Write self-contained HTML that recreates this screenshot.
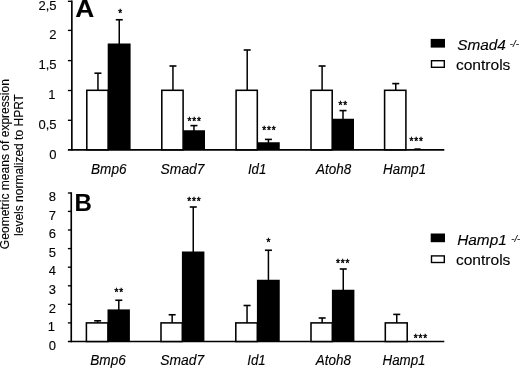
<!DOCTYPE html>
<html><head><meta charset="utf-8"><title>Figure</title>
<style>
html,body{margin:0;padding:0;background:#fff;}
body{width:520px;height:368px;overflow:hidden;}
svg{display:block;will-change:transform;}
text{font-family:"Liberation Sans",sans-serif;fill:#000;stroke:#000;stroke-width:0.12px;}
text.st{stroke-width:0.4px;}
</style></head><body>
<svg width="520" height="368" viewBox="0 0 520 368">
<rect x="0" y="0" width="520" height="368" fill="#fff"/>
<line x1="71.85" y1="0.55" x2="71.85" y2="150.58" stroke="#000" stroke-width="1.65"/>
<line x1="67.90" y1="149.80" x2="444.30" y2="149.80" stroke="#000" stroke-width="1.65"/>
<text x="56.60" y="158.50" text-anchor="end" style="font-size:13px;" >0</text>
<line x1="67.90" y1="120.30" x2="71.85" y2="120.30" stroke="#000" stroke-width="1.35"/>
<text x="56.60" y="129.00" text-anchor="end" style="font-size:13px;" >0,5</text>
<line x1="67.90" y1="90.50" x2="71.85" y2="90.50" stroke="#000" stroke-width="1.35"/>
<text x="55.60" y="99.20" text-anchor="end" style="font-size:13px;" >1</text>
<line x1="67.90" y1="60.60" x2="71.85" y2="60.60" stroke="#000" stroke-width="1.35"/>
<text x="56.60" y="69.30" text-anchor="end" style="font-size:13px;" >1,5</text>
<line x1="67.90" y1="30.40" x2="71.85" y2="30.40" stroke="#000" stroke-width="1.35"/>
<text x="56.60" y="39.10" text-anchor="end" style="font-size:13px;" >2</text>
<line x1="67.90" y1="1.30" x2="71.85" y2="1.30" stroke="#000" stroke-width="1.35"/>
<text x="56.60" y="9.50" text-anchor="end" style="font-size:13px;" >2,5</text>
<rect x="107.70" y="43.50" width="22.90" height="106.30" fill="#000"/>
<line x1="119.25" y1="19.75" x2="119.25" y2="44.50" stroke="#000" stroke-width="1.5"/>
<line x1="115.75" y1="19.75" x2="122.75" y2="19.75" stroke="#000" stroke-width="1.6"/>
<rect x="86.80" y="90.30" width="21.30" height="59.50" fill="#fff" stroke="#000" stroke-width="1.55"/>
<line x1="97.95" y1="73.20" x2="97.95" y2="90.30" stroke="#000" stroke-width="1.5"/>
<line x1="94.45" y1="73.20" x2="101.45" y2="73.20" stroke="#000" stroke-width="1.6"/>
<text class="st" x="120.60" y="17.35" text-anchor="middle" style="font-size:10.0px;" letter-spacing="0.87">*</text>
<rect x="182.70" y="130.25" width="22.30" height="19.55" fill="#000"/>
<line x1="193.95" y1="125.60" x2="193.95" y2="131.25" stroke="#000" stroke-width="1.5"/>
<line x1="190.45" y1="125.60" x2="197.45" y2="125.60" stroke="#000" stroke-width="1.6"/>
<rect x="161.80" y="90.30" width="21.30" height="59.50" fill="#fff" stroke="#000" stroke-width="1.55"/>
<line x1="172.95" y1="66.00" x2="172.95" y2="90.30" stroke="#000" stroke-width="1.5"/>
<line x1="169.45" y1="66.00" x2="176.45" y2="66.00" stroke="#000" stroke-width="1.6"/>
<text class="st" x="194.60" y="124.75" text-anchor="middle" style="font-size:10.0px;" letter-spacing="0.87">***</text>
<rect x="256.90" y="142.25" width="22.85" height="7.55" fill="#000"/>
<line x1="268.42" y1="139.40" x2="268.42" y2="143.25" stroke="#000" stroke-width="1.5"/>
<line x1="264.92" y1="139.40" x2="271.92" y2="139.40" stroke="#000" stroke-width="1.6"/>
<rect x="236.10" y="90.30" width="21.20" height="59.50" fill="#fff" stroke="#000" stroke-width="1.55"/>
<line x1="247.20" y1="50.00" x2="247.20" y2="90.30" stroke="#000" stroke-width="1.5"/>
<line x1="243.70" y1="50.00" x2="250.70" y2="50.00" stroke="#000" stroke-width="1.6"/>
<text class="st" x="269.40" y="134.25" text-anchor="middle" style="font-size:10.0px;" letter-spacing="0.87">***</text>
<rect x="331.80" y="118.75" width="22.20" height="31.05" fill="#000"/>
<line x1="343.00" y1="110.60" x2="343.00" y2="119.75" stroke="#000" stroke-width="1.5"/>
<line x1="339.50" y1="110.60" x2="346.50" y2="110.60" stroke="#000" stroke-width="1.6"/>
<rect x="311.00" y="90.30" width="21.20" height="59.50" fill="#fff" stroke="#000" stroke-width="1.55"/>
<line x1="322.10" y1="66.00" x2="322.10" y2="90.30" stroke="#000" stroke-width="1.5"/>
<line x1="318.60" y1="66.00" x2="325.60" y2="66.00" stroke="#000" stroke-width="1.6"/>
<text class="st" x="343.30" y="109.00" text-anchor="middle" style="font-size:10.0px;" letter-spacing="0.87">**</text>
<rect x="384.60" y="90.30" width="21.30" height="59.50" fill="#fff" stroke="#000" stroke-width="1.55"/>
<line x1="395.75" y1="83.60" x2="395.75" y2="90.30" stroke="#000" stroke-width="1.5"/>
<line x1="392.25" y1="83.60" x2="399.25" y2="83.60" stroke="#000" stroke-width="1.6"/>
<text class="st" x="416.75" y="144.55" text-anchor="middle" style="font-size:10.0px;" letter-spacing="0.87">***</text>
<text transform="translate(91.00,173.50) scale(0.985,1)" text-anchor="start" style="font-size:13.8px;font-style:italic;" >Bmp6</text>
<text transform="translate(160.60,173.50) scale(1.005,1)" text-anchor="start" style="font-size:13.8px;font-style:italic;" >Smad7</text>
<text transform="translate(247.90,173.50) scale(0.96,1)" text-anchor="start" style="font-size:13.8px;font-style:italic;" >Id1</text>
<text transform="translate(316.10,173.50) scale(0.975,1)" text-anchor="start" style="font-size:13.8px;font-style:italic;" >Atoh8</text>
<text transform="translate(383.10,173.50) scale(0.967,1)" text-anchor="start" style="font-size:13.8px;font-style:italic;" >Hamp1</text>
<line x1="71.25" y1="192.25" x2="71.25" y2="342.28" stroke="#000" stroke-width="1.65"/>
<line x1="67.90" y1="341.50" x2="444.30" y2="341.50" stroke="#000" stroke-width="1.65"/>
<text x="55.90" y="349.70" text-anchor="end" style="font-size:13px;" >0</text>
<line x1="67.90" y1="322.90" x2="71.25" y2="322.90" stroke="#000" stroke-width="1.35"/>
<text x="54.90" y="331.10" text-anchor="end" style="font-size:13px;" >1</text>
<line x1="67.90" y1="304.30" x2="71.25" y2="304.30" stroke="#000" stroke-width="1.35"/>
<text x="55.90" y="312.50" text-anchor="end" style="font-size:13px;" >2</text>
<line x1="67.90" y1="285.80" x2="71.25" y2="285.80" stroke="#000" stroke-width="1.35"/>
<text x="55.90" y="294.00" text-anchor="end" style="font-size:13px;" >3</text>
<line x1="67.90" y1="267.20" x2="71.25" y2="267.20" stroke="#000" stroke-width="1.35"/>
<text x="55.90" y="275.40" text-anchor="end" style="font-size:13px;" >4</text>
<line x1="67.90" y1="248.60" x2="71.25" y2="248.60" stroke="#000" stroke-width="1.35"/>
<text x="55.90" y="256.80" text-anchor="end" style="font-size:13px;" >5</text>
<line x1="67.90" y1="230.00" x2="71.25" y2="230.00" stroke="#000" stroke-width="1.35"/>
<text x="55.90" y="238.20" text-anchor="end" style="font-size:13px;" >6</text>
<line x1="67.90" y1="211.40" x2="71.25" y2="211.40" stroke="#000" stroke-width="1.35"/>
<text x="55.90" y="219.60" text-anchor="end" style="font-size:13px;" >7</text>
<line x1="67.90" y1="193.00" x2="71.25" y2="193.00" stroke="#000" stroke-width="1.35"/>
<text x="55.90" y="201.20" text-anchor="end" style="font-size:13px;" >8</text>
<rect x="107.50" y="309.40" width="22.40" height="32.10" fill="#000"/>
<line x1="118.80" y1="300.25" x2="118.80" y2="310.40" stroke="#000" stroke-width="1.5"/>
<line x1="115.30" y1="300.25" x2="122.30" y2="300.25" stroke="#000" stroke-width="1.6"/>
<rect x="86.40" y="322.90" width="21.50" height="18.60" fill="#fff" stroke="#000" stroke-width="1.55"/>
<line x1="97.65" y1="320.80" x2="97.65" y2="322.90" stroke="#000" stroke-width="1.5"/>
<line x1="94.15" y1="320.80" x2="101.15" y2="320.80" stroke="#000" stroke-width="1.6"/>
<text class="st" x="119.25" y="296.15" text-anchor="middle" style="font-size:10.0px;" letter-spacing="0.87">**</text>
<rect x="181.90" y="251.50" width="22.50" height="90.00" fill="#000"/>
<line x1="193.25" y1="207.00" x2="193.25" y2="252.50" stroke="#000" stroke-width="1.5"/>
<line x1="189.75" y1="207.00" x2="196.75" y2="207.00" stroke="#000" stroke-width="1.6"/>
<rect x="161.00" y="322.90" width="21.30" height="18.60" fill="#fff" stroke="#000" stroke-width="1.55"/>
<line x1="172.15" y1="314.75" x2="172.15" y2="322.90" stroke="#000" stroke-width="1.5"/>
<line x1="168.65" y1="314.75" x2="175.65" y2="314.75" stroke="#000" stroke-width="1.6"/>
<text class="st" x="194.35" y="204.55" text-anchor="middle" style="font-size:10.0px;" letter-spacing="0.87">***</text>
<rect x="256.90" y="279.75" width="22.85" height="61.75" fill="#000"/>
<line x1="268.42" y1="250.25" x2="268.42" y2="280.75" stroke="#000" stroke-width="1.5"/>
<line x1="264.92" y1="250.25" x2="271.92" y2="250.25" stroke="#000" stroke-width="1.6"/>
<rect x="235.80" y="322.90" width="21.50" height="18.60" fill="#fff" stroke="#000" stroke-width="1.55"/>
<line x1="247.05" y1="305.50" x2="247.05" y2="322.90" stroke="#000" stroke-width="1.5"/>
<line x1="243.55" y1="305.50" x2="250.55" y2="305.50" stroke="#000" stroke-width="1.6"/>
<text class="st" x="268.85" y="245.65" text-anchor="middle" style="font-size:10.0px;" letter-spacing="0.87">*</text>
<rect x="331.90" y="289.75" width="22.50" height="51.75" fill="#000"/>
<line x1="343.25" y1="269.00" x2="343.25" y2="290.75" stroke="#000" stroke-width="1.5"/>
<line x1="339.75" y1="269.00" x2="346.75" y2="269.00" stroke="#000" stroke-width="1.6"/>
<rect x="311.00" y="322.90" width="21.30" height="18.60" fill="#fff" stroke="#000" stroke-width="1.55"/>
<line x1="322.15" y1="318.00" x2="322.15" y2="322.90" stroke="#000" stroke-width="1.5"/>
<line x1="318.65" y1="318.00" x2="325.65" y2="318.00" stroke="#000" stroke-width="1.6"/>
<text class="st" x="343.10" y="266.65" text-anchor="middle" style="font-size:10.0px;" letter-spacing="0.87">***</text>
<rect x="385.30" y="322.90" width="21.90" height="18.60" fill="#fff" stroke="#000" stroke-width="1.55"/>
<line x1="396.75" y1="314.40" x2="396.75" y2="322.90" stroke="#000" stroke-width="1.5"/>
<line x1="393.25" y1="314.40" x2="400.25" y2="314.40" stroke="#000" stroke-width="1.6"/>
<text class="st" x="420.80" y="341.95" text-anchor="middle" style="font-size:10.0px;" letter-spacing="0.87">***</text>
<text transform="translate(90.25,364.90) scale(0.985,1)" text-anchor="start" style="font-size:13.8px;font-style:italic;" >Bmp6</text>
<text transform="translate(160.25,364.90) scale(1.005,1)" text-anchor="start" style="font-size:13.8px;font-style:italic;" >Smad7</text>
<text transform="translate(247.25,364.90) scale(0.96,1)" text-anchor="start" style="font-size:13.8px;font-style:italic;" >Id1</text>
<text transform="translate(315.75,364.90) scale(0.975,1)" text-anchor="start" style="font-size:13.8px;font-style:italic;" >Atoh8</text>
<text transform="translate(382.50,364.90) scale(0.967,1)" text-anchor="start" style="font-size:13.8px;font-style:italic;" >Hamp1</text>
<rect x="414.4" y="148.3" width="6.2" height="1" fill="#000"/>
<text transform="translate(75.20,17.00) scale(1.07,1)" text-anchor="start" style="font-size:24.6px;font-weight:bold;" >A</text>
<text transform="translate(74.50,210.90) scale(1.03,1)" text-anchor="start" style="font-size:23.3px;font-weight:bold;" >B</text>
<rect x="430.7" y="38.9" width="14.3" height="8.7" fill="#000"/>
<rect x="431.50" y="60.70" width="12.80" height="6.60" fill="#fff" stroke="#000" stroke-width="1.4"/>
<text transform="translate(457.20,50.45) scale(1.005,1)" text-anchor="start" style="font-size:15.3px;font-style:italic;" >Smad4</text>
<text x="509.80" y="46.60" text-anchor="start" style="font-size:9.6px;font-style:italic;" >-/-</text>
<text transform="translate(455.90,69.70) scale(1.005,1)" text-anchor="start" style="font-size:15.5px;" >controls</text>
<rect x="430.7" y="233.5" width="14.3" height="8.7" fill="#000"/>
<rect x="431.50" y="255.90" width="12.80" height="6.60" fill="#fff" stroke="#000" stroke-width="1.4"/>
<text transform="translate(457.20,245.45) scale(1.005,1)" text-anchor="start" style="font-size:15.3px;font-style:italic;" >Hamp1</text>
<text x="511.20" y="241.60" text-anchor="start" style="font-size:9.6px;font-style:italic;" >-/-</text>
<text transform="translate(455.90,264.70) scale(1.005,1)" text-anchor="start" style="font-size:15.5px;" >controls</text>
<g transform="translate(8.9,164.1) rotate(-90)">
<text x="0.00" y="0.00" text-anchor="middle" style="font-size:12.05px;" >Geometric means of expression</text>
</g>
<g transform="translate(23.3,165.0) rotate(-90)">
<text x="0.00" y="0.00" text-anchor="middle" style="font-size:12.0px;" >levels normalized to HPRT</text>
</g>
</svg>
</body></html>
